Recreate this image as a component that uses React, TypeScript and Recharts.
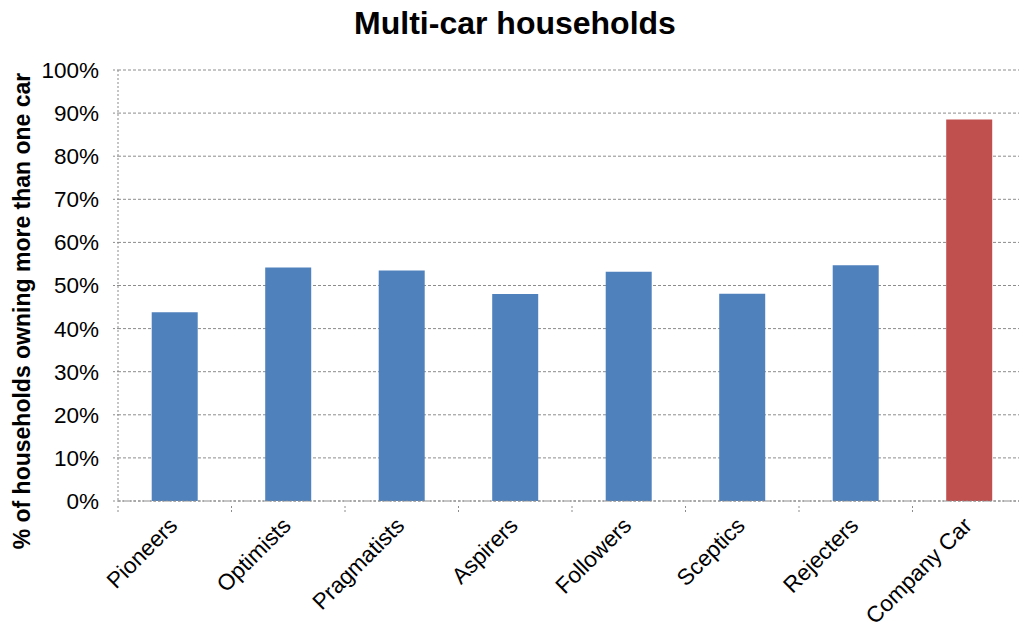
import React from "react";
import { BarChart, Bar, XAxis, YAxis, CartesianGrid, Cell, Label } from "recharts";

const categories = ["Pioneers", "Optimists", "Pragmatists", "Aspirers", "Followers", "Sceptics", "Rejecters", "Company Car"];
const shares = [43.8, 54.2, 53.5, 48.0, 53.2, 48.1, 54.7, 88.5];
const barColors = ["#4F81BD", "#4F81BD", "#4F81BD", "#4F81BD", "#4F81BD", "#4F81BD", "#4F81BD", "#C0504D"];
const yTicks = [0, 10, 20, 30, 40, 50, 60, 70, 80, 90, 100];

const data = categories.map((name, i) => ({ name, share: shares[i] }));

const FONT = "'Liberation Sans', Arial, sans-serif";
const GRID = "#8c8c8c";

function CategoryTick(props: any) {
  const { x, y, payload, index } = props;
  const half = payload?.offset ?? 0;
  const ax = x + 4;
  const ay = y + 18;
  return (
    <g>
      <line x1={x - half} y1={y - 3} x2={x - half} y2={y + 4} stroke={GRID} strokeDasharray="2 2" />
      {index === categories.length - 1 && (
        <line x1={x + half} y1={y - 3} x2={x + half} y2={y + 4} stroke={GRID} strokeDasharray="2 2" />
      )}
      <text
        x={ax}
        y={ay}
        textAnchor="end"
        transform={`rotate(-45, ${ax}, ${ay})`}
        fontFamily={FONT}
        fontSize={22.5}
        fill="#000"
      >
        {payload.value}
      </text>
    </g>
  );
}

function YTitle() {
  return (
    <text
      x={30}
      y={311}
      textAnchor="middle"
      transform="rotate(-90, 30, 311)"
      fontFamily={FONT}
      fontSize={23}
      fontWeight="bold"
      fill="#000"
    >
      % of households owning more than one car
    </text>
  );
}

export default function App() {
  return (
    <div style={{ position: "absolute", left: 0, top: 0, width: 1019, height: 626, overflow: "hidden", background: "#fff" }}>
      <div
        style={{
          position: "absolute",
          left: 0,
          width: 1030,
          top: 4,
          textAlign: "center",
          fontFamily: FONT,
          fontWeight: "bold",
          fontSize: 32,
          color: "#000",
          lineHeight: "38px",
        }}
      >
        Multi-car households
      </div>
      <BarChart
        width={1030}
        height={626}
        data={data}
        margin={{ top: 70, right: 4, left: 0, bottom: 0 }}
        barCategoryGap="29.7%"
        style={{ position: "absolute", left: 0, top: 0 }}
      >
        <CartesianGrid vertical={false} stroke={GRID} strokeDasharray="3 2" />
        <XAxis
          dataKey="name"
          height={125}
          interval={0}
          tickLine={false}
          axisLine={{ stroke: GRID, strokeDasharray: "2 2" }}
          tick={<CategoryTick />}
        />
        <YAxis
          width={118}
          domain={[0, 100]}
          ticks={yTicks}
          interval={0}
          tickFormatter={(v: number) => `${v}%`}
          tickSize={5}
          tickMargin={14}
          tickLine={{ stroke: GRID, strokeDasharray: "2 2" }}
          axisLine={{ stroke: GRID, strokeDasharray: "2 2" }}
          tick={{ fontFamily: FONT, fontSize: 22.5, fill: "#000" }}
        >
          <Label content={<YTitle />} />
        </YAxis>
        <Bar dataKey="share" isAnimationActive={false}>
          {data.map((_, i) => (
            <Cell key={`c-${i}`} fill={barColors[i]} />
          ))}
        </Bar>
      </BarChart>
    </div>
  );
}
